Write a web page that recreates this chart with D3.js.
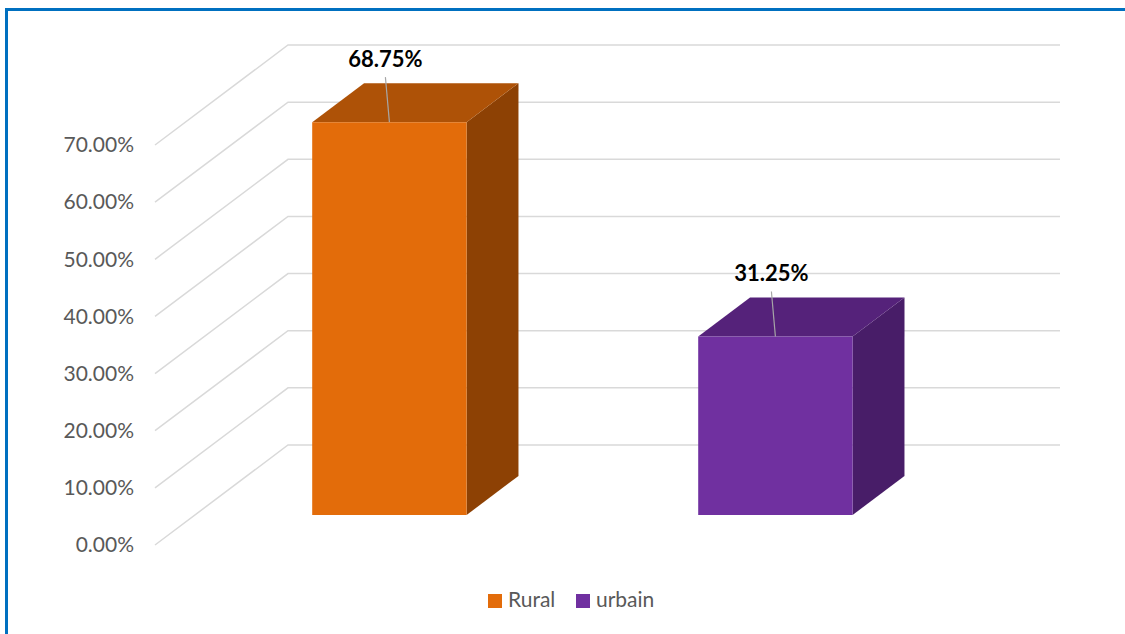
<!DOCTYPE html>
<html>
<head>
<meta charset="utf-8">
<script src="https://cdn.jsdelivr.net/npm/d3@7"></script>
<style>
  html, body { margin: 0; padding: 0; background: #ffffff; }
  svg { display: block; }
</style>
</head>
<body>
<svg id="chart" width="1125" height="634"></svg>
<script>
// ---- data ----
const categories = ["Rural", "urbain"];
const values = [0.6875, 0.3125];
const tickValues = [0, 0.1, 0.2, 0.3, 0.4, 0.5, 0.6, 0.7];
const frontColors = ["#E36C0A", "#7030A0"];
const topColors = ["#AE5207", "#55227A"];
const sideColors = ["#8D4104", "#481D68"];

const svg = d3.select("#chart");

// Projection geometry
const depthDX = 133, depthDY = 100;
const yScale = d3.scaleLinear().domain([0, 0.7]).range([545, 145]);
const xScale = d3.scaleBand().domain(categories).range([156.5, 928.5]).padding(0);
const barFrac = 0.4;
const tFront = 0.3, tBack = 0.69;
const wallLeft = 155, wallRight = 927;

function P(x, v, t) {
  return [x + depthDX * t, yScale(v) - depthDY * t];
}

// Border
svg.append("rect")
  .attr("x", 6.5).attr("y", 9.5)
  .attr("width", 1300).attr("height", 1000)
  .attr("fill", "none")
  .attr("stroke", "#0070C0")
  .attr("stroke-width", 3);

// Gridlines: left wall diagonals and back wall horizontals
const grid = svg.append("g").attr("stroke", "#D9D9D9").attr("stroke-width", 1.5).attr("fill", "none");
tickValues.forEach(v => {
  const a = P(wallLeft, v, 0), b = P(wallLeft, v, 1), c = P(wallRight, v, 1);
  grid.append("path").attr("d", `M${a[0]},${a[1]}L${b[0]},${b[1]}L${c[0]},${c[1]}`);
});

// Y axis labels
const axis = d3.axisLeft(yScale)
  .tickValues(tickValues)
  .tickFormat(d3.format(".2%"))
  .tickSize(0)
  .tickPadding(21);
const axG = svg.append("g").attr("transform", `translate(${wallLeft},0)`).call(axis);
axG.select(".domain").remove();
axG.selectAll("text")
  .attr("fill", "#595959")
  .style("font-family", "Lato, 'Open Sans', sans-serif")
  .style("font-size", "21px");

// Bars
categories.forEach((c, i) => {
  const v = values[i];
  const bw = xScale.bandwidth() * barFrac;
  const x0 = xScale(c) + (xScale.bandwidth() - bw) / 2;
  const x1 = x0 + bw;
  const g = svg.append("g");
  const poly = pts => pts.map(p => p.join(",")).join(" ");
  // side face
  g.append("polygon")
    .attr("points", poly([P(x1, 0, tFront), P(x1, v, tFront), P(x1, v, tBack), P(x1, 0, tBack)]))
    .attr("fill", sideColors[i]);
  // top face
  g.append("polygon")
    .attr("points", poly([P(x0, v, tFront), P(x1, v, tFront), P(x1, v, tBack), P(x0, v, tBack)]))
    .attr("fill", topColors[i]);
  // front face
  g.append("polygon")
    .attr("points", poly([P(x0, 0, tFront), P(x1, 0, tFront), P(x1, v, tFront), P(x0, v, tFront)]))
    .attr("fill", frontColors[i]);

  // data label + leader line
  const cx = (x0 + x1) / 2 + depthDX * tFront;
  const frontTop = P(x0, v, tFront)[1];
  const backTop = P(x0, v, tBack)[1];
  const labelY = backTop - 16;
  svg.append("line")
    .attr("x1", cx - 4).attr("y1", labelY + 10)
    .attr("x2", cx).attr("y2", frontTop)
    .attr("stroke", "#A6A6A6").attr("stroke-width", 1.2);
  svg.append("text")
    .attr("x", cx - 4).attr("y", labelY)
    .attr("text-anchor", "middle")
    .attr("fill", "#000000")
    .style("font-family", "Lato, 'Open Sans', sans-serif")
    .style("font-weight", "bold")
    .style("font-size", "22px")
    .text(d3.format(".2%")(v));
});

// Legend
const legendX = [488, 576];
categories.forEach((c, i) => {
  svg.append("rect")
    .attr("x", legendX[i]).attr("y", 594)
    .attr("width", 14).attr("height", 14)
    .attr("fill", frontColors[i]);
  svg.append("text")
    .attr("x", legendX[i] + 20).attr("y", 607)
    .attr("fill", "#595959")
    .style("font-family", "Lato, 'Open Sans', sans-serif")
    .style("font-size", "21px")
    .text(c);
});
</script>
</body>
</html>
